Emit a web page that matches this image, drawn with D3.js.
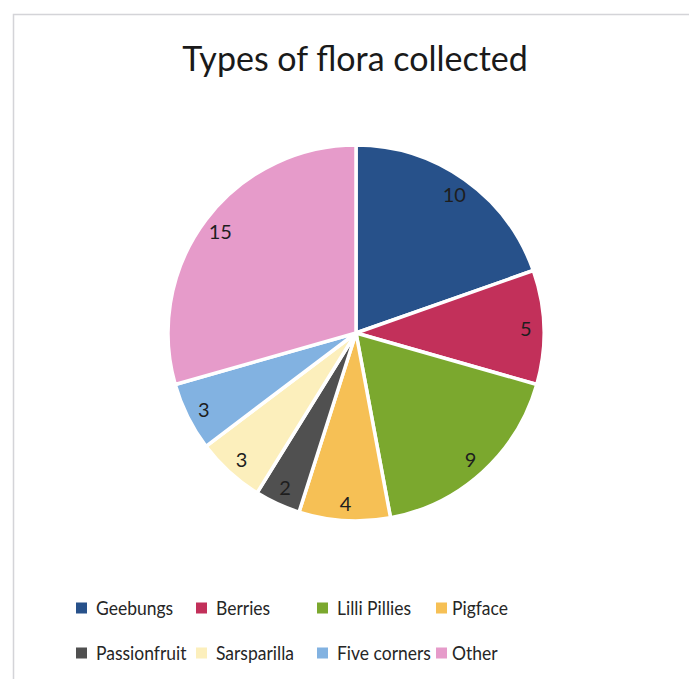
<!DOCTYPE html>
<html>
<head>
<meta charset="utf-8">
<script src="https://cdn.jsdelivr.net/npm/d3@7"></script>
<style>
  html, body { margin: 0; padding: 0; background: #fff; }
  svg { display: block; }
</style>
</head>
<body>
<svg id="chart" width="689" height="679"></svg>
<script>
// ---- data ----
const categories = ["Geebungs", "Berries", "Lilli Pillies", "Pigface", "Passionfruit", "Sarsparilla", "Five corners", "Other"];
const values = [10, 5, 9, 4, 2, 3, 3, 15];
const colors = ["#27518a", "#c2305a", "#7ba82e", "#f6c055", "#505050", "#fcefbc", "#82b2e1", "#e69bca"];
const title = "Types of flora collected";

// ---- layout ----
const W = 689, H = 679;
const cx = 356, cy = 333, R = 188;
const font = "Lato, 'Open Sans', 'DejaVu Sans', sans-serif";

const svg = d3.select("#chart");
svg.append("rect").attr("width", W).attr("height", H).attr("fill", "#fff");

// chart area border (cropped scan)
svg.append("path")
  .attr("d", `M13.5,${H + 5} L13.5,14.5 L${W + 5},14.5`)
  .attr("fill", "none").attr("stroke", "#d4d4d8").attr("stroke-width", 1.5);

// title
svg.append("text")
  .attr("x", 355).attr("y", 71)
  .attr("text-anchor", "middle")
  .attr("font-family", font).attr("font-size", 34)
  .attr("fill", "#1a1a1a")
  .text(title);

const data = categories.map((c, i) => ({ name: c, value: values[i], color: colors[i] }));
const pie = d3.pie().value(d => d.value).sort(null);
const arcs = pie(data);
const arc = d3.arc().innerRadius(0).outerRadius(R);
const labelArc = d3.arc().innerRadius(170).outerRadius(170);

const g = svg.append("g").attr("transform", `translate(${cx},${cy})`);
g.selectAll("path.slice").data(arcs).join("path")
  .attr("class", "slice")
  .attr("d", arc)
  .attr("fill", d => d.data.color)
  .attr("stroke", "#fff")
  .attr("stroke-width", 3.5)
  .attr("stroke-linejoin", "round");

g.selectAll("text.lbl").data(arcs).join("text")
  .attr("class", "lbl")
  .attr("transform", d => `translate(${labelArc.centroid(d)})`)
  .attr("text-anchor", "middle")
  .attr("dominant-baseline", "central")
  .attr("font-family", font).attr("font-size", 20)
  .attr("fill", "#1e1e1e")
  .text(d => d.data.value);

// legend: 4 columns x 2 rows
const colX = [76, 196, 317, 436];
const rowY = [608, 653];
const lg = svg.append("g");
const items = lg.selectAll("g.item").data(data).join("g")
  .attr("class", "item")
  .attr("transform", (d, i) => `translate(${colX[i % 4]},${rowY[Math.floor(i / 4)]})`);
items.append("rect")
  .attr("x", 0).attr("y", -5.5).attr("width", 11).attr("height", 11)
  .attr("fill", d => d.color);
items.append("text")
  .attr("x", (d, i) => (i % 4 === 3 ? 16 : 20))
  .attr("y", 0)
  .attr("dominant-baseline", "central")
  .attr("font-family", font).attr("font-size", 17.5)
  .attr("transform", "scale(1,1.08)")
  .attr("fill", "#262626")
  .text(d => d.name);
</script>
</body>
</html>
